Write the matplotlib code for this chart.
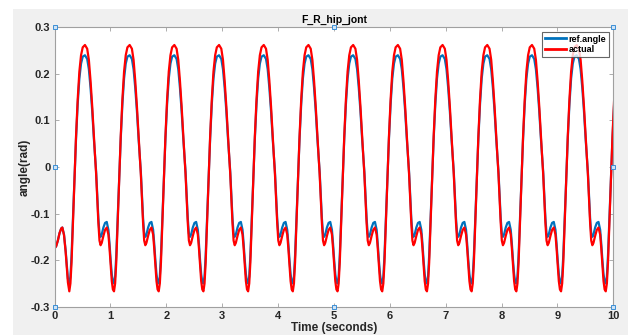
import matplotlib
matplotlib.use('Agg')
import matplotlib.pyplot as plt
import numpy as np

# one gait cycle, seconds after the deep minimum
phase = [0.00, 0.02, 0.04, 0.06, 0.08, 0.10, 0.12, 0.15, 0.18, 0.21, 0.24, 0.28,
         0.32, 0.35, 0.38, 0.41, 0.44, 0.46, 0.48, 0.50, 0.52, 0.54, 0.56, 0.58,
         0.61, 0.64, 0.67, 0.70, 0.72, 0.74, 0.76, 0.78]
ref_cycle = [-0.250, -0.235, -0.190, -0.130, -0.065, 0.000, 0.060, 0.135, 0.190, 0.222, 0.237, 0.240,
             0.232, 0.210, 0.170, 0.120, 0.060, 0.025, -0.010, -0.060, -0.110, -0.143, -0.150, -0.145,
             -0.130, -0.120, -0.118, -0.135, -0.165, -0.200, -0.230, -0.247]
act_cycle = [-0.267, -0.250, -0.205, -0.140, -0.070, 0.000, 0.065, 0.145, 0.205, 0.240, 0.257, 0.262,
             0.254, 0.230, 0.185, 0.130, 0.065, 0.025, -0.015, -0.070, -0.120, -0.158, -0.168, -0.163,
             -0.148, -0.135, -0.130, -0.145, -0.175, -0.210, -0.245, -0.263]

# start-up segment before the first deep minimum
t_start = [0.00, 0.03, 0.06, 0.09, 0.12, 0.14, 0.17, 0.20, 0.22, 0.24]
ref_start = [-0.175, -0.170, -0.158, -0.142, -0.132, -0.130, -0.145, -0.180, -0.210, -0.240]
act_start = [-0.175, -0.170, -0.158, -0.142, -0.132, -0.130, -0.146, -0.183, -0.215, -0.248]

t_first_min = 0.265
period = 0.80
n_cycles = 13

t = list(t_start)
ref = list(ref_start)
act = list(act_start)
for k in range(n_cycles):
    t += [t_first_min + k * period + p for p in phase]
    ref += ref_cycle
    act += act_cycle
t = np.array(t)

fig = plt.figure(figsize=(6.28, 3.35), dpi=100, facecolor='white')
plt.rcParams['font.family'] = ['Liberation Sans', 'DejaVu Sans']
# grey MATLAB figure window background
fig.patches.append(plt.Rectangle((13 / 628, 0), 1, 1 - 9 / 335, transform=fig.transFigure,
                                 facecolor='#f0f0f0', edgecolor='none', zorder=-1))

ax = fig.add_axes([54.5 / 628, 1 - 306.7 / 335, (613.3 - 54.5) / 628, (306.7 - 27.3) / 335])
ax.set_facecolor('white')
ax.plot(t, ref, color='#0072BD', lw=1.6, label='ref.angle')
ax.plot(t, act, color='#FF0000', lw=1.6, label='actual')

ax.set_xlim(0, 10)
ax.set_ylim(-0.3, 0.3)
ax.set_xticks(np.arange(0, 11, 1))
ax.set_yticks([-0.3, -0.2, -0.1, 0, 0.1, 0.2, 0.3])
ax.set_yticklabels(['-0.3', '-0.2', '-0.1', '0', '0.1', '0.2', '0.3'])
ax.tick_params(direction='in', top=True, right=True, length=3, width=0.6, color='#a0a0a0',
               labelsize=8, labelcolor='#262626', pad=3)
for lab in ax.get_xticklabels() + ax.get_yticklabels():
    lab.set_fontweight('bold')
for s in ax.spines.values():
    s.set_color('#a0a0a0')
    s.set_linewidth(0.8)

ax.set_title('F_R_hip_jont', fontsize=7.5, fontweight='bold', color='#000000', pad=3)
ax.set_xlabel('Time (seconds)', fontsize=8.5, fontweight='bold', color='#262626', labelpad=1)
ax.set_ylabel('angle(rad)', fontsize=8.5, fontweight='bold', color='#262626', labelpad=0)

leg = ax.legend(loc='upper right', fontsize=6.5, frameon=True, fancybox=False,
                borderpad=0.3, labelspacing=0.2, handlelength=2.3, handletextpad=0.3,
                borderaxespad=0.5)
leg.get_frame().set_edgecolor('#404040')
leg.get_frame().set_linewidth(0.8)
for txt in leg.get_texts():
    txt.set_fontweight('bold')
for line in leg.get_lines():
    line.set_linewidth(2.0)

# MATLAB selection handles on the axes box
hx = [0, 0, 0, 0.5, 0.5, 1, 1, 1]
hy = [0, 0.5, 1, 0, 1, 0, 0.5, 1]
ax.plot(hx, hy, ls='none', marker='s', ms=3.5, mfc='#cfe3f5', mec='#3b8fd6', mew=0.7,
        transform=ax.transAxes, clip_on=False, zorder=5)

fig.savefig('out.png', dpi=100, facecolor=fig.get_facecolor())
